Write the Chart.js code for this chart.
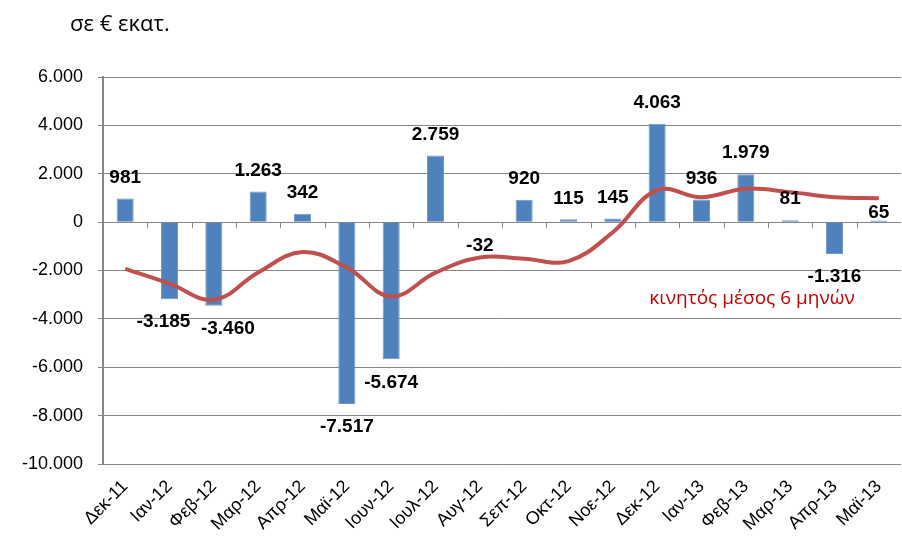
<!DOCTYPE html>
<html lang="el">
<head>
<meta charset="UTF-8">
<title>Ισοζύγιο - κινητός μέσος 6 μηνών</title>
<script src="https://cdn.jsdelivr.net/npm/chart.js"></script>
<style>
  html, body { margin: 0; padding: 0; background: #fff; }
</style>
</head>
<body>
<canvas id="chart" width="902" height="546"></canvas>
<script>
// data
const months = ['Δεκ-11','Ιαν-12','Φεβ-12','Μαρ-12','Απρ-12','Μαϊ-12','Ιουν-12','Ιουλ-12','Αυγ-12',
                'Σεπ-12','Οκτ-12','Νοε-12','Δεκ-12','Ιαν-13','Φεβ-13','Μαρ-13','Απρ-13','Μαϊ-13'];
const monthly = [981, -3185, -3460, 1263, 342, -7517, -5674, 2759, -32,
                 920, 115, 145, 4063, 936, 1979, 81, -1316, 65];
const movingAvg = [-1930, -2540, -3210, -2080, -1240, -1880, -3070, -2090, -1460,
                   -1510, -1610, -420, 1320, 1030, 1380, 1240, 1030, 990];
const yMin = -10000, yMax = 6000, yStep = 2000;
const unitTitle = 'σε € εκατ.';
const avgLabel = 'κινητός μέσος 6 μηνών';

// small hand nudges for a few value labels [dx, dy]
const labelNudge = { 1: [-6, 0], 2: [14, 0], 17: [0, 13] };

function fmt(v) {
  const s = Math.abs(v).toString().replace(/\B(?=(\d{3})+(?!\d))/g, '.');
  return (v < 0 ? '-' : '') + s;
}

const extras = {
  id: 'extras',
  beforeDatasetsDraw(chart) {
    const { ctx, scales: { x, y } } = chart;
    const y0 = y.getPixelForValue(0);
    ctx.save();
    ctx.strokeStyle = '#868686';
    ctx.lineWidth = 1;
    for (let i = 1; i < months.length; i++) {
      const bx = Math.round((x.getPixelForValue(i - 1) + x.getPixelForValue(i)) / 2) + 0.5;
      ctx.beginPath();
      ctx.moveTo(bx, y0);
      ctx.lineTo(bx, y0 + 6);
      ctx.stroke();
    }
    ctx.restore();
  },
  afterDatasetsDraw(chart) {
    const { ctx } = chart;
    const meta = chart.getDatasetMeta(0);
    ctx.save();
    ctx.font = 'bold 19px "Liberation Sans", Arial, sans-serif';
    ctx.fillStyle = '#000';
    ctx.textAlign = 'center';
    ctx.textBaseline = 'middle';
    meta.data.forEach((bar, i) => {
      const v = monthly[i];
      const n = labelNudge[i] || [0, 0];
      const ty = v >= 0 ? bar.y - 21 : bar.y + 23;
      ctx.fillText(fmt(v), bar.x + n[0], ty + n[1]);
    });

    ctx.font = '22px "Open Sans", sans-serif';
    ctx.textAlign = 'left';
    ctx.fillText(unitTitle, 70, 25);

    ctx.fillStyle = '#C00000';
    ctx.font = '19px "Open Sans", sans-serif';
    ctx.textAlign = 'center';
    ctx.fillText(avgLabel, 752, 299);
    ctx.restore();
  }
};

new Chart(document.getElementById('chart'), {
  type: 'bar',
  data: {
    labels: months,
    datasets: [
      {
        type: 'bar',
        data: monthly,
        backgroundColor: '#4F81BD',
        borderColor: '#6E97CB',
        borderWidth: 1,
        barPercentage: 0.385,
        categoryPercentage: 1,
        order: 1
      },
      {
        type: 'line',
        data: movingAvg,
        borderColor: '#C0504D',
        borderWidth: 4,
        pointRadius: 0,
        tension: 0.4,
        fill: false,
        order: 0
      }
    ]
  },
  plugins: [extras],
  options: {
    responsive: false,
    animation: false,
    layout: { padding: { top: 77, right: 1, left: 0, bottom: 0 } },
    plugins: { legend: { display: false }, tooltip: { enabled: false } },
    scales: {
      x: {
        grid: { display: false },
        border: { display: false },
        ticks: {
          minRotation: 45, maxRotation: 45, padding: 4,
          color: '#000',
          font: { family: '"Liberation Sans", Arial, sans-serif', size: 18 }
        },
        afterFit(s) { s.height = 82; }
      },
      y: {
        min: yMin, max: yMax,
        grid: { color: '#868686', lineWidth: 1, tickLength: 5 },
        border: { color: '#868686', width: 2 },
        ticks: {
          stepSize: yStep, padding: 15, color: '#000',
          font: { family: '"Liberation Sans", Arial, sans-serif', size: 18 },
          callback: v => fmt(v)
        },
        afterFit(s) { s.width = 103; }
      }
    }
  }
});
</script>
</body>
</html>
